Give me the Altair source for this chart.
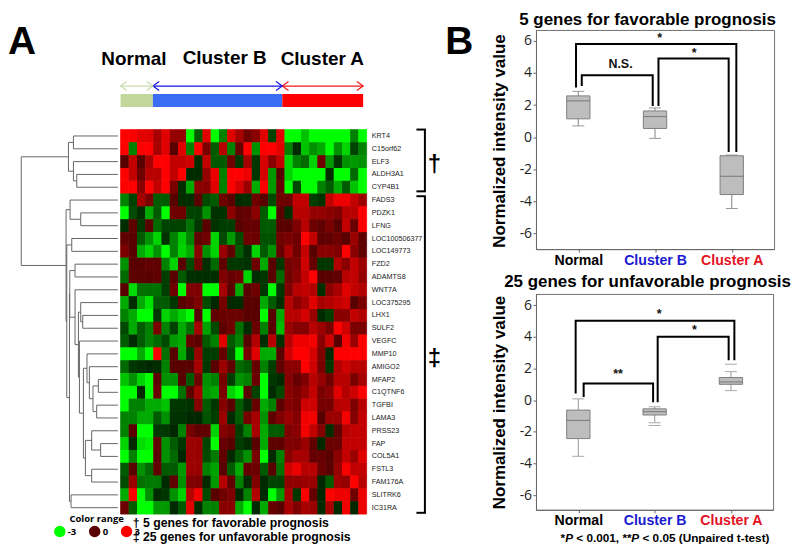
import altair as alt
import pandas as pd

genes = ["KRT4","C15orf62","ELF3","ALDH3A1","CYP4B1","FADS3","PDZK1","LFNG","LOC100506377","LOC149773",
         "FZD2","ADAMTS8","WNT7A","LOC375295","LHX1","SULF2","VEGFC","MMP10","AMIGO2","MFAP2",
         "C1QTNF6","TGFBI","LAMA3","PRSS23","FAP","COL5A1","FSTL3","FAM176A","SLITRK6","IC31RA"]

heat_rows = [
 [3,3,2.5,2.5,1.5,2.5,1.2,1.2,-3,-1,2.5,-3,-1.5,2.5,1.5, .5,1,2.5,-.7,2.5,-3,-3,-2.3,-3,-3,-3,-3,-3,-1.5,-3],
 [3,-1.5,3,3,1.5,2.5,0,2.5,-1.5,3,.7,-1,1.8,-1.5,.3, 3,-1.7,3,3,2.5,-1.5,-.2,-2.3,-1.7,-2,-3,-1.7,-2.5,-.7,-1.5],
 [0,2,0,1.5,3,3,2,2,2.2,-.3,2,-1,-1,.5,-.5, 1.5,-.5,2.3,1,2,-2.5,-1.5,-1.2,-2.5,.5,-1.8,-.5,-1.7,-1.8,-1.7],
 [3,2,.5,1.8,1.8,3,2,3,-.2,-.2,1.2,2.7,-1.5,3,3, 2.7,-.5,2.3,-1.8,0,-2.5,-3,-3,-3,-3,-.3,-3,-3,-1.2,-3],
 [3,3,1,3,2,3,.7,-.3,-2,1,1,2.5,-1.5,3,2.3, 1.3,-2,3,-1.8,.3,-3,-.8,-3,-3,-1.5,-1,-2,-1,-2.3,-3],
 [-1.5,-.7,1.5,.7,-1,-1,0,-.3,-.3,0,-.8,-1,.5,0,-.2, -.3,.5,0,-.8,.5,.4,2,2,-.6,-.4,2,2.7,2.7,2,1.3],
 [-3,-.8,-.3,-2,-1,-3,.5,.5,-.7,-.7,-1.7,-.4,-.4,1,.2, .3,1,-1,-3,0,-.3,1.8,1.8,1.2,1.2,1,.8,1.8,1.8,3],
 [-.3,.1,-.5,0,-1.2,-.7,-.7,-.7,-1.3,-.5,0,-.4,-.6,-.6,0, .3,.3,-1,-1,0,0,.8,1.8,.5,.2,.7,0,2,.4,3],
 [.2,0,-1,-1.7,-2.5,-.4,-1.5,-2.4,-1.5,.2,.5,-2.5,-.8,-1.8,-.8, .5,.4,-.9,-.9,.5,.7,.5,3,2,.1,.2,.5,0,1.3,.1],
 [.7,0,-2,-2.5,-1.7,-3,-1.5,-2.5,-2,1,-1.7,-2.5,1.3,.2,-1, -.3,-2.5,-1,-1.7,.3,1.5,.5,2,0,1,1,.8,3,1,.2],
 [-1.7,0,0,.2,.2,-1.5,-2.5,0,-.8,.5,-.3,-1.2,.2,-.5,-.5, -.4,.5,-2,0,-.5,.6,.8,2.2,.3,-.5,-.5,1.7,1,2,1.3],
 [-1.2,.1,0,0,.2,-.6,0,-1,-.3,-.3,-.3,-.3,.8,.3,.5, -2.5,-.2,-.5,0,-1.2,.5,1,2,3,0,0,.2,1.8,2,1.2],
 [0,-2.6,-1.3,-1.3,-1.3,-.6,.5,-3,.8,.8,-3,-3,1.5,0,-2, 0,.5,-.5,-3,-.5,.8,1.8,2,1.7,-.3,1,1.5,2.5,2,1.7],
 [-2,-.3,-2,-2.7,-1,-1,-.5,0,.3,.8,-.8,-.1,.6,-.1,-.2, 0,0,-2,-1,-.3,1.8,1,1.5,2.5,1.5,1.7,2,2.2,0,.7],
 [-1.5,-2,-3,-3,-.5,-2.5,-2,-2.5,-3,0,-3,.2,.4,.4,.4, 0,0,-3,0,-2,1.8,1.8,2.3,1.3,-.2,-.6,1,1,2,1.7],
 [-.8,-2,-1,-1.5,.7,-1.5,-.7,-2,-1.3,1.5,-1.9,-.8,.1,.5,-1.3, -.2,.4,-1.5,0,-2.2,1.3,.9,.9,1.8,1.3,.7,3,2.2,.7,.7],
 [-1,-.2,-1,-1.5,-1.2,-.8,-1.8,-2,.3,.1,-1,-1.5,2.5,-1,-1.5, 0,1.7,-.3,1.8,-.4,1.8,2.7,2.7,2.8,1,2.2,0,2.8,1.3,3],
 [-3,-3,-2,-3,3,-1.3,0,-2,-.5,1.3,-.6,-.6,.3,-.8,-3, .7,2.5,-2,-2,0,2.2,3,3,2.3,.8,-.2,3,3,3,3],
 [-1.2,-.5,-.3,-.1,-.3,-1.5,0,0,0,1.5,-.5,0,1.3,.2,-1.2, -1,.3,-1.5,-.6,.2,1,1,3,2.2,.7,-.5,1.7,2.2,1.8,1.8],
 [-2.3,-1.7,-2.5,-3,.1,-1.7,-1.7,0,-1,.5,-1.7,-1.5,.6,-.6,-1.7, -1.5,.4,-3,-.5,-.2,.9,.3,.8,1.8,1.2,.5,1.8,1.8,.7,1.5],
 [-3,-3,-.2,-3,.4,-3,-3,-1.3,.1,1.5,-1.8,-2,.8,-2.5,-3, .1,-.7,-3,-.2,-.8,1,.7,1.2,2,.7,1,2.5,1.7,2.2,3],
 [-3,-1.5,-1.5,-2,-2,-2.3,-.5,-.5,-.4,.9,-1,-.5,.9,0,-1, -.3,.3,-2,-1.5,.1,.9,.7,2.2,2.2,.6,.6,1.8,1.9,.8,1.8],
 [-1.5,-1.5,-2,-2,-1,-1.7,-.4,-.4,-.1,-.1,-.9,-.6,1.3,-.2,-1, .6,1.5,-1.7,.2,.8,1.3,.9,2.8,2.8,0,1.3,1.3,2.8,.9,2],
 [-1.5,0,-3,-3,-.5,-.5,-.1,-1.5,.6,.2,.2,-2.5,.9,.6,-.6, -1.5,1.5,-2,-1,-1,.8,1,2.8,2,.9,-.3,.2,1.8,2,2],
 [-2.5,-.2,-2.6,-2.8,.2,-1.7,-1,-.5,1.3,1.3,-.7,-3,.3,0,-.6, -.3,0,-2,.1,.1,.8,.8,1.3,.2,-.1,.4,.4,2,2,2],
 [-3,-1.5,-3,-3,.1,-1.7,-1.2,-.1,1.3,1.3,-.8,-1.4,.2,-.2,-1, -1.7,.6,-3,-.2,-1.5,1,1.5,1.5,.3,.3,0,1,2,1.3,2.5],
 [-1,0,-1.7,-1.2,.2,-1,-1,-1.8,1.3,1.3,-1.5,-1.9,0,-1,-2, .3,.4,-1,0,-1.3,2.2,2.7,1.8,1.8,.4,0,1.2,2.9,2,2],
 [-.8,1.3,-1.3,-1.4,-1.4,-.2,.2,-1.7,.8,.8,-.2,-1.8,1.8,.2,-1.5, -.2,.8,-.2,-.7,-.7,1.1,1.1,1.3,1.3,-.1,-1,1.4,1.2,3,1.8],
 [-2,3,-3,-1.7,-.2,-.5,-1.7,-2.5,1.8,2.8,-.8,0,.5,.8,-.1, -1.5,1.7,-.2,-3,-1.8,1.5,-.5,3,.3,-.1,3,2.7,2.7,.5,2.7],
 [.4,-1,-3,-3,-1.8,-1.8,-.2,-1,2.5,-.2,-1.5,-1.5,1,1,-2, -3,-.2,-2,.3,0,1.5,.8,1.5,1.3,-.2,1.5,-.2,2.8,-.1,2.7],
]

# Linkage tree: (height, child, child); integers are gene rows
linkage_tree = (99.7,
    (52.3, (47.3, 0, 1), (47.3, 2, (44, 3, 4))),
    (54.7,
        (50.7, 5, (40, 6, 7)),
        (54,
            (49, 8, 9),
            (51.3,
                (51,
                    (45.7, 10, 11),
                    (45.7, 12,
                        (42.3,
                            (40, 13, (38, 14, 15)),
                            (41.3, 16,
                                (37.3,
                                    (33.7, 17, (31.3, 18, (27.7, (22.3, 19, 20), (24, 21, 22)))),
                                    (35.3, (29, 23, (20, 24, 25)), (29, 26, 27))))))),
                (49.7, 28, 29)))))
leaf_height = 2.7

cluster_names = ["Normal", "Cluster B", "Cluster A"]
cluster_start = [0, 4, 20]
cluster_end = [4, 20, 30]
bar_colors = ["#c3d69b", "#3a6cf4", "#ff0000"]
arrow_colors = ["#c9dcaa", "#1414e6", "#f01818"]

box_centers = [0, 1, 2]
fav_low = [0.70, -0.08, -4.45]
fav_q1 = [1.14, 0.54, -3.58]
fav_med = [2.26, 1.28, -2.44]
fav_q3 = [2.57, 1.63, -1.16]
fav_high = [2.855, 1.82, -1.12]

unf_low = [-3.55, -1.43, 0.60]
unf_q1 = [-2.43, -0.94, 1.00]
unf_med = [-1.28, -0.73, 1.15]
unf_q3 = [-0.63, -0.55, 1.43]
unf_high = [0.08, -0.42, 1.80]
unf_extra_x = [1, 2]
unf_extra_y = [-1.60, 2.27]

fav_brackets_x = [[-0.03, -0.03, 2.06, 2.06], [0.045, 0.045, 0.97, 0.97], [1.045, 1.045, 1.96, 1.96]]
fav_brackets_y = [[3.10, 5.81, 5.81, -0.93], [3.19, 3.85, 3.85, 1.94], [1.94, 4.90, 4.90, -0.93]]
fav_marks = ["*", "N.S.", "*"]
fav_marks_x = [1.06, 0.55, 1.51]
fav_marks_y = [6.17, 4.55, 5.26]

unf_brackets_x = [[-0.035, -0.035, 2.045, 2.045], [0.07, 0.07, 0.98, 0.98], [1.04, 1.04, 1.97, 1.97]]
unf_brackets_y = [[0.42, 5.01, 5.01, 2.52], [0.19, 1.05, 1.05, -0.13], [-0.13, 4.00, 4.00, 2.52]]
unf_marks = ["*", "**", "*"]
unf_marks_x = [1.06, 0.52, 1.52]
unf_marks_y = [5.45, 1.68, 4.45]

gene_groups = ["\u2020", "\u2021"]
group_top = [0.0, 5.2]
group_bottom = [4.82, 29.9]

SANS = "Liberation Sans"


def label(text, x, y, size, weight="bold", font=SANS, color="black", align="left", style="normal"):
    return alt.Chart(pd.DataFrame({"t": [text]})).mark_text(
        font=font, fontSize=size, fontWeight=weight, color=color, align=align,
        baseline="alphabetic", fontStyle=style
    ).encode(x=alt.value(x), y=alt.value(y), text="t:N")


# ---------- header ----------
LEFT_W = 483
PX_PER_SAMPLE = 8.117
sample_scale = alt.Scale(domain=[-113 / PX_PER_SAMPLE, (LEFT_W - 113) / PX_PER_SAMPLE], nice=False, zero=False)
clusters = pd.DataFrame({"name": cluster_names, "start": cluster_start, "end": cluster_end,
                         "bar": bar_colors, "arrow": arrow_colors})
bar_x = alt.X("start:Q", scale=sample_scale, axis=None)
bars = alt.Chart(clusters).mark_rect().encode(
    x=bar_x, x2="end:Q", y=alt.value(85.3), y2=alt.value(98.3), color=alt.Color("bar:N", scale=None))
shafts = alt.Chart(clusters).mark_rule(strokeWidth=1.2).encode(
    x=bar_x, x2="end:Q", y=alt.value(77.3), color=alt.Color("arrow:N", scale=None))
heads_l = alt.Chart(clusters).mark_point(shape="M1.4,-1L0,0L1.4,1", size=81, filled=False, strokeWidth=1.2, opacity=1).encode(
    x=alt.X("start:Q", scale=sample_scale, axis=None), y=alt.value(77.3), color=alt.Color("arrow:N", scale=None))
heads_r = alt.Chart(clusters).mark_point(shape="M-1.4,-1L0,0L-1.4,1", size=81, filled=False, strokeWidth=1.2, opacity=1).encode(
    x=alt.X("end:Q", scale=sample_scale, axis=None), y=alt.value(77.3), color=alt.Color("arrow:N", scale=None))
header = alt.layer(
    bars, shafts, heads_l, heads_r,
    label("A", 0, 45, 39),
    label("B", 439, 45, 39),
    label("Normal", 93.7, 56, 19),
    label("Cluster B", 175.3, 55.3, 19),
    label("Cluster A", 273.7, 56, 19),
).properties(width=LEFT_W, height=120)

# ---------- dendrogram ----------
segments_h, segments_v = [], []


def walk(node):
    if isinstance(node, int):
        return leaf_height, node + 0.5
    h, a, b = node
    ha, ya = walk(a)
    hb, yb = walk(b)
    segments_h.append({"a": ha, "b": h, "y": ya})
    segments_h.append({"a": hb, "b": h, "y": yb})
    segments_v.append({"h": h, "y": ya, "y2": yb})
    return h, (ya + yb) / 2


walk(linkage_tree)
height_scale = alt.Scale(domain=[113, 0], nice=False, zero=False)
row_scale = alt.Scale(domain=[0, 30], reverse=True, nice=False, zero=False)
dendro = alt.layer(
    alt.Chart(pd.DataFrame(segments_h)).mark_rule(color="#666666", strokeWidth=1).encode(
        x=alt.X("a:Q", scale=height_scale, axis=None), x2="b:Q",
        y=alt.Y("y:Q", scale=row_scale, axis=None)),
    alt.Chart(pd.DataFrame(segments_v)).mark_rule(color="#666666", strokeWidth=1).encode(
        x=alt.X("h:Q", scale=height_scale, axis=None),
        y=alt.Y("y:Q", scale=row_scale, axis=None), y2="y2:Q"),
).properties(width=113, height=386)

# ---------- heat map ----------
cells = pd.DataFrame([
    {"gene": g, "sample": j, "value": v}
    for g, row in zip(genes, heat_rows) for j, v in enumerate(row)
])
heat_scale = alt.Scale(domain=[-3, 0, 3], range=["#00ff00", "#000000", "#ff0000"])
heat_x = alt.X("sample:O", axis=None, scale=alt.Scale(paddingInner=0, paddingOuter=0))
heat_y = alt.Y("gene:N", sort=genes, title=None, scale=alt.Scale(paddingInner=0, paddingOuter=0),
               axis=alt.Axis(orient="right", domain=False, ticks=False, labelFont=SANS, labelFontSize=7.2,
                             labelColor="#222222", labelPadding=4.7, labelOverlap=False))
heat = alt.layer(
    # same cells, outlined underneath, so no hairlines show between neighbours
    alt.Chart(cells).mark_rect(strokeWidth=0.7, fillOpacity=0).encode(
        x=heat_x, y=heat_y, stroke=alt.Stroke("value:Q", scale=heat_scale, legend=None)),
    alt.Chart(cells).mark_rect().encode(
        x=heat_x, y=heat_y,
        color=alt.Color("value:Q", scale=heat_scale,
                        legend=alt.Legend(type="gradient", orient="none", legendX=46, legendY=507, direction="horizontal",
                                          gradientLength=58.7, gradientThickness=4, title="Color range",
                                          titleFont="Open Sans", titleFontSize=9.5, titleFontWeight="bold",
                                          titleAnchor="middle", titleColor="black", titlePadding=2,
                                          labelFont="Open Sans", labelFontSize=9.5, labelFontWeight="bold",
                                          labelColor="black", values=[-3, 0, 3], labelOffset=2,
                                          labelExpr="'' + datum.value"))),
    label("\u2020 5 genes for favorable prognosis", 12.3, 398.5, 12.3),
    label("\u2021 25 genes for unfavorable prognosis", 12.3, 413.2, 12.3),
).properties(width=247, height=386)

# ---------- brackets beside the heat map ----------
groups = pd.DataFrame({"mark": gene_groups, "top": group_top, "bottom": group_bottom})
groups["mid"] = (groups["top"] + groups["bottom"]) / 2
gy = alt.Y("top:Q", scale=row_scale, axis=None)
side = alt.layer(
    alt.Chart(groups).mark_rule(color="black", strokeWidth=2).encode(x=alt.value(58.5), y=gy, y2="bottom:Q"),
    alt.Chart(groups).mark_rule(color="black", strokeWidth=2).encode(x=alt.value(50), x2=alt.value(59.5), y=gy),
    alt.Chart(groups).mark_rule(color="black", strokeWidth=2).encode(
        x=alt.value(50), x2=alt.value(59.5), y=alt.Y("bottom:Q", scale=row_scale, axis=None)),
    alt.Chart(groups).mark_text(font=SANS, fontSize=24, fontWeight="bold", color="black", baseline="middle", dy=5).encode(
        x=alt.value(68), y=alt.Y("mid:Q", scale=row_scale, axis=None), text="mark:N"),
).properties(width=LEFT_W - 113 - 247, height=386)


# ---------- box plots ----------
def box_panel(lo, q1, med, q3, hi, bx, by, marks, mx, my, extra_x, extra_y, width, height, center_px, step_px, tx, ty, cap_color):
    boxes = pd.DataFrame({"c": box_centers, "lo": lo, "q1": q1, "med": med, "q3": q3, "hi": hi})
    half_box, half_cap = 11.7 / step_px, 6 / step_px
    boxes["l"], boxes["r"] = boxes["c"] - half_box, boxes["c"] + half_box
    boxes["cl"], boxes["cr"] = boxes["c"] - half_cap, boxes["c"] + half_cap
    xs = alt.Scale(domain=[-center_px / step_px, (width - center_px) / step_px], nice=False, zero=False)
    ys = alt.Scale(domain=[-6 - ty[1], 6 + ty[0]], nice=False, zero=False)
    xaxis = alt.Axis(values=box_centers, title=None, grid=False, labelFont=SANS, labelFontSize=14.2, labelFontWeight="bold",
                     labelExpr="datum.value==0?'Normal':datum.value==1?'Cluster B':'Cluster A'",
                     labelColor={"expr": "datum.value==0?'#000000':datum.value==1?'#1a1ad0':'#e3121f'"},
                     tickSize=3, tickColor="#666666", domainColor="#666666", labelPadding=1,
                     labelOverlap=False, labelFlush=False, labelBound=False)
    yaxis = alt.Axis(values=[-6, -4, -2, 0, 2, 4, 6], grid=False, labelFont="Open Sans", labelFontSize=14, labelColor="#222222",
                     labelExpr="'' + datum.value", tickSize=3, tickColor="#666666", domainColor="#666666", labelPadding=1.4,
                     title="Normalized intensity value", titleFont=SANS, titleFontSize=17, titleFontWeight="bold",
                     titleColor="black", titleX=-31.7, titleY=tx, titleBaseline="alphabetic", titleAngle=270, titleAlign="center")

    def X(field):
        return alt.X(field, scale=xs, axis=xaxis)

    def Y(field):
        return alt.Y(field, scale=ys, axis=yaxis)

    base = alt.Chart(boxes)
    layers = [
        base.mark_rule(color=cap_color, strokeWidth=1.2).encode(x=X("c:Q"), y=Y("lo:Q"), y2="hi:Q"),
        base.mark_rule(color=cap_color, strokeWidth=1).encode(x=X("cl:Q"), x2="cr:Q", y=Y("lo:Q")),
        base.mark_rule(color=cap_color, strokeWidth=1).encode(x=X("cl:Q"), x2="cr:Q", y=Y("hi:Q")),
        base.mark_rect(fill="#bdbdbd", stroke="#808080", strokeWidth=1).encode(
            x=X("l:Q"), x2="r:Q", y=Y("q1:Q"), y2="q3:Q"),
        base.mark_rule(color="#777777", strokeWidth=1).encode(x=X("l:Q"), x2="r:Q", y=Y("med:Q")),
    ]
    if extra_x:
        ex = pd.DataFrame({"c": extra_x, "v": extra_y})
        ex["cl"], ex["cr"] = ex["c"] - half_cap, ex["c"] + half_cap
        layers.append(alt.Chart(ex).mark_rule(color=cap_color, strokeWidth=1).encode(
            x=X("cl:Q"), x2="cr:Q", y=Y("v:Q")))
    seg = pd.DataFrame([
        {"id": i, "seq": k, "x": xv, "y": yv}
        for i, (xr, yr) in enumerate(zip(bx, by)) for k, (xv, yv) in enumerate(zip(xr, yr))
    ])
    layers.append(alt.Chart(seg).mark_line(color="black", strokeWidth=2, strokeJoin="miter").encode(
        x=X("x:Q"), y=Y("y:Q"), detail="id:N", order="seq:Q"))
    mk = pd.DataFrame({"t": marks, "x": mx, "y": my})
    layers.append(alt.Chart(mk).mark_text(font=SANS, fontSize=12.5, fontWeight="bold", color="#111111", baseline="middle").encode(
        x=X("x:Q"), y=Y("y:Q"), text="t:N"))
    return alt.layer(*layers).properties(width=width, height=height, view=alt.ViewBackground(stroke="#707070", strokeWidth=1))


box1 = box_panel(fav_low, fav_q1, fav_med, fav_q3, fav_high, fav_brackets_x, fav_brackets_y,
                 fav_marks, fav_marks_x, fav_marks_y, [], [], 239, 220, 42.5, 77, 111, (0.68, 0.98), "#999999")
box2 = box_panel(unf_low, unf_q1, unf_med, unf_q3, unf_high, unf_brackets_x, unf_brackets_y,
                 unf_marks, unf_marks_x, unf_marks_y, unf_extra_x, unf_extra_y, 238, 216.7, 42.5, 76.6, 108.5, (0.71, 0.93), "#aaaaaa")

title1 = label("5 genes for favorable prognosis", 112, 15.6, 17, align="center").properties(width=239, height=21)
title2 = label("25 genes for unfavorable prognosis", 112, 38, 17, align="center").properties(width=239, height=45)
note = alt.layer(
    label("*", 24.7, 32, 11.8),
    label("P", 29.3, 32, 11.8, style="italic"),
    label("< 0.001, **", 40.5, 32, 11.8),
    label("P", 95.7, 32, 11.8, style="italic"),
    label("< 0.05 (Unpaired t-test)", 106.9, 32, 11.8),
).properties(width=239, height=30)

row = alt.hconcat(dendro, heat, side, spacing=0, bounds="flush")
left = alt.vconcat(header, row, spacing=0)
right = alt.vconcat(title1, box1, title2, box2, note, spacing=0, bounds="flush")
chart = alt.hconcat(left, right, spacing=0).properties(padding=0).configure_view(stroke=None)

chart.save("out.html", embed_options={"renderer": "svg", "actions": False})
